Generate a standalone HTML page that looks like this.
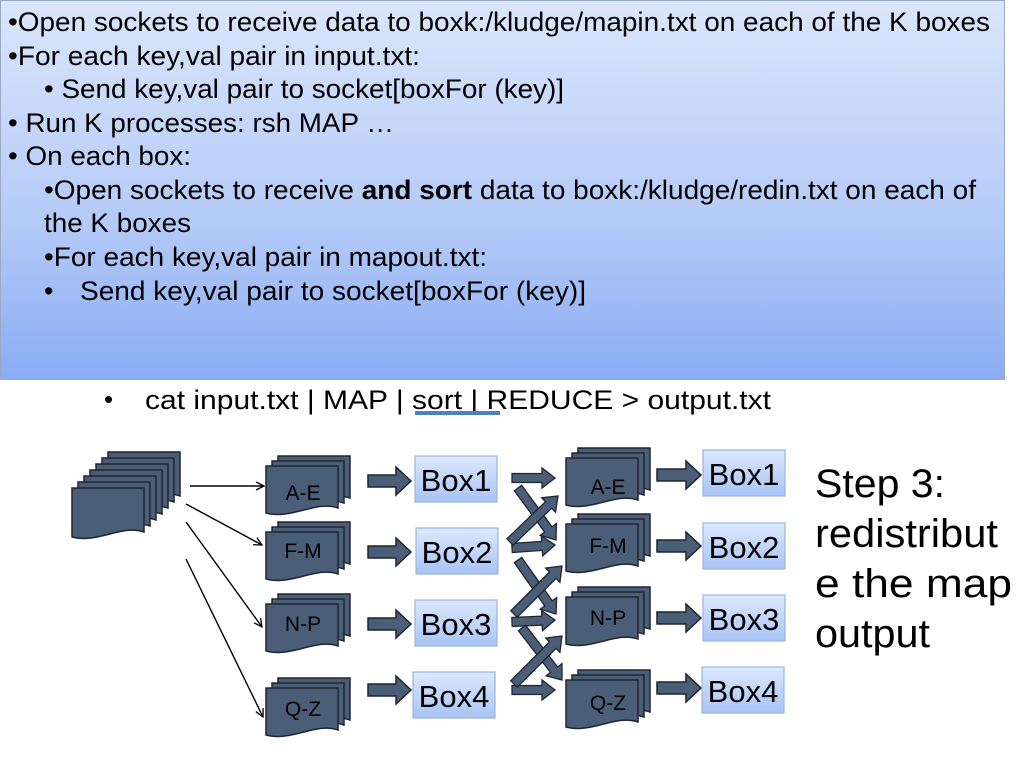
<!DOCTYPE html>
<html><head><meta charset="utf-8"><style>
html,body{margin:0;padding:0;background:#fff;}
svg{display:block;font-family:"Liberation Sans",Arial,sans-serif;}
</style></head><body>
<svg id="s" width="1024" height="768" viewBox="0 0 1024 768" xmlns="http://www.w3.org/2000/svg">
<defs>
<linearGradient id="g" x1="0" y1="0" x2="0" y2="1">
<stop offset="0" stop-color="#dbe6fb"/><stop offset="0.6" stop-color="#b3c9f7"/><stop offset="1" stop-color="#8aacf4"/>
</linearGradient>
<linearGradient id="bg" x1="0" y1="0" x2="0" y2="1">
<stop offset="0" stop-color="#dce8fd"/><stop offset="1" stop-color="#a8c4f5"/>
</linearGradient>
<marker id="ah" markerWidth="10" markerHeight="10" refX="9" refY="5" orient="auto" markerUnits="userSpaceOnUse">
<path d="M1,1 L9,5 L1,9" fill="none" stroke="#000" stroke-width="1.3"/>
</marker>
</defs>
<rect x="0.5" y="0.5" width="1004" height="379" fill="url(#g)" stroke="#9aa9c4"/>
<g font-size="27" fill="#000" lengthAdjust="spacingAndGlyphs">
<text x="8" y="31" textLength="982" lengthAdjust="spacingAndGlyphs">•Open sockets to receive data to boxk:/kludge/mapin.txt on each of the K boxes</text>
<text x="8" y="65" textLength="412" lengthAdjust="spacingAndGlyphs">•For each key,val pair in input.txt:</text>
<text x="44" y="98" textLength="520" lengthAdjust="spacingAndGlyphs">• Send key,val pair to socket[boxFor (key)]</text>
<text x="8" y="132" textLength="386" lengthAdjust="spacingAndGlyphs">• Run K processes: rsh MAP …</text>
<text x="8" y="165" textLength="183" lengthAdjust="spacingAndGlyphs">• On each box:</text>
<text x="44" y="199" textLength="932" lengthAdjust="spacingAndGlyphs">•Open sockets to receive <tspan font-weight="bold">and sort</tspan> data to boxk:/kludge/redin.txt on each of</text>
<text x="44" y="232" textLength="147" lengthAdjust="spacingAndGlyphs">the K boxes</text>
<text x="44" y="266" textLength="443" lengthAdjust="spacingAndGlyphs">•For each key,val pair in mapout.txt:</text>
<text x="44" y="300">•</text>
<text x="80" y="300" textLength="506" lengthAdjust="spacingAndGlyphs">Send key,val pair to socket[boxFor (key)]</text>
</g>
<text x="104" y="408" font-size="26">•</text>
<text x="145" y="409" font-size="27" textLength="626" lengthAdjust="spacingAndGlyphs">cat input.txt | MAP | sort | REDUCE &gt; output.txt</text>
<rect x="415" y="411" width="85" height="4" fill="#4f81bd"/>
<g font-size="40" fill="#000">
<text x="815" y="497" textLength="130" lengthAdjust="spacingAndGlyphs">Step 3:</text>
<text x="815" y="547" textLength="183" lengthAdjust="spacingAndGlyphs">redistribut</text>
<text x="815" y="597" textLength="197" lengthAdjust="spacingAndGlyphs">e the  map</text>
<text x="815" y="647" textLength="115" lengthAdjust="spacingAndGlyphs">output</text>
</g>
<g id="dyn"></g>
</svg>
<script>
var g=document.getElementById('dyn'),h='';
function doc(x,y,w,hh){
 var b=y+hh;
 return '<path d="M'+x+','+y+' L'+(x+w)+','+y+' L'+(x+w)+','+(b-4)+' C'+(x+w*0.7)+','+(b-12)+' '+(x+w*0.35)+','+(b+8)+' '+x+','+(b+1)+' Z" fill="#4b5e78" stroke="#1e2530" stroke-width="1.5"/>';
}
function stack(x,y,w,hh,n,dx,dy){
 var s='';for(var i=n-1;i>=0;i--)s+=doc(x+i*dx,y-i*dy,w,hh);return s;
}
h+=stack(72,488,72,48,7,6,6);
var L=[[466,'A-E',500],[532,'F-M',558],[604,'N-P',631],[688,'Q-Z',716]];
L.forEach(function(r){h+=stack(266,r[0],72,46,3,6,5);h+='<text x="303" y="'+r[2]+'" font-size="21" text-anchor="middle" fill="#000">'+r[1]+'</text>';});
var R=[[458,'A-E',494],[524,'F-M',553],[597,'N-P',625],[680,'Q-Z',710]];
R.forEach(function(r){h+=stack(566,r[0],72,46,3,6,5);h+='<text x="608" y="'+r[2]+'" font-size="21" text-anchor="middle" fill="#000">'+r[1]+'</text>';});
function barrow(x1,y,x2){
 var hw=14,bh=6,hx=x2-15;
 return '<path d="M'+x1+','+(y-bh)+' L'+hx+','+(y-bh)+' L'+hx+','+(y-hw)+' L'+x2+','+y+' L'+hx+','+(y+hw)+' L'+hx+','+(y+bh)+' L'+x1+','+(y+bh)+' Z" fill="#4b5e78" stroke="#1e2530" stroke-width="1.5"/>';
}
[481,552,624,690].forEach(function(y){h+=barrow(368,y,411);});
[475,546,618,688].forEach(function(y){h+=barrow(657,y,701);});
function box(x,y,t){return '<rect x="'+x+'" y="'+y+'" width="82" height="46" fill="url(#bg)" stroke="#9bb3dc" stroke-width="1.2"/><text x="'+(x+41)+'" y="'+(y+35)+'" font-size="31" text-anchor="middle" fill="#000">'+t+'</text>';}
h+=box(415,456,'Box1')+box(416,528,'Box2')+box(415,600,'Box3')+box(413,672,'Box4');
h+=box(703,450,'Box1')+box(703,523,'Box2')+box(703,595,'Box3')+box(702,667,'Box4');
function tarrow(x1,y1,x2,y2){
 var dx=x2-x1,dy=y2-y1,l=Math.sqrt(dx*dx+dy*dy),ux=dx/l,uy=dy/l,px=-uy,py=ux;
 var bw=4.5,hw=10,hl=13,hx=x2-ux*hl,hy=y2-uy*hl;
 var p=[[x1+px*bw,y1+py*bw],[hx+px*bw,hy+py*bw],[hx+px*hw,hy+py*hw],[x2,y2],[hx-px*hw,hy-py*hw],[hx-px*bw,hy-py*bw],[x1-px*bw,y1-py*bw]];
 return '<path d="M'+p.map(function(q){return q[0].toFixed(1)+','+q[1].toFixed(1)}).join(' L')+' Z" fill="#4b5e78" stroke="#1e2530" stroke-width="1.3"/>';
}
var ys=[478,548,622,690],ts=[478,545,620,690];
for(var i=0;i<4;i++)h+=tarrow(512,ys[i],555,ts[i]);
h+=tarrow(518,488,556,540);h+=tarrow(510,542,558,496);
h+=tarrow(518,560,556,614);h+=tarrow(514,614,562,566);
h+=tarrow(522,628,562,680);h+=tarrow(514,684,562,636);
function line(x1,y1,x2,y2){return '<line x1="'+x1+'" y1="'+y1+'" x2="'+x2+'" y2="'+y2+'" stroke="#000" stroke-width="1.4" marker-end="url(#ah)"/>';}
h+=line(190,486,264,486)+line(186,504,262,545)+line(186,522,262,627)+line(186,559,263,717);
g.innerHTML=h;
</script>
</body></html>
